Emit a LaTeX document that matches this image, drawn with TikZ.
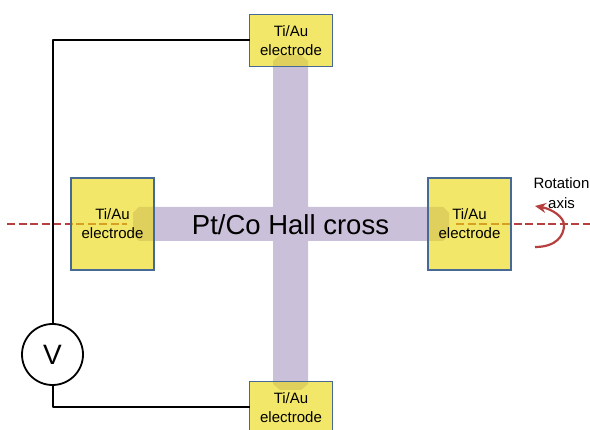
\documentclass[tikz,border=0pt]{standalone}
\usepackage{fontspec}
\usetikzlibrary{arrows.meta}
\setmainfont{Liberation Sans}
\definecolor{crossc}{RGB}{203,192,218}
\definecolor{elecfill}{RGB}{235,217,19}
\definecolor{elecline}{RGB}{70,105,150}
\definecolor{axisred}{RGB}{181,64,63}
\tikzset{
  electrode/.style={draw=elecline,line width=1.7pt,fill=elecfill,fill opacity=.63,text opacity=1,draw opacity=1,
    minimum width=83pt,inner sep=0pt,outer sep=0pt,align=center,font=\fontsize{15}{19}\selectfont},
  wire/.style={draw=black,line width=2pt,line join=round},
  axisline/.style={draw=axisred,line width=2.6pt,dash pattern=on 8pt off 3.5pt},
  voltmeter/.style={circle,draw=black,line width=1.8pt,fill=white,minimum size=61pt,inner sep=0pt,outer sep=0pt,font=\fontsize{28}{32}\selectfont},
  crossbar/.style={fill=crossc,draw=none},
  plainlabel/.style={inner sep=0pt,align=center},
}
\begin{document}
\begin{tikzpicture}[x=1pt,y=-1pt]
\useasboundingbox (0,0) rectangle (590,430);
\clip (0,0) rectangle (590,430);
\fill[white] (0,0) rectangle (590,430);
% Hall cross
\path[crossbar] (280,55) -- (301,55) -- (308,61) -- (308,207) -- (443,207) -- (449,213) -- (449,235) -- (443,241)
  -- (308,241) -- (308,384) -- (301,390) -- (280,390) -- (273,384) -- (273,241) -- (139,241) -- (133,235) -- (133,213)
  -- (139,207) -- (273,207) -- (273,61) -- cycle;
% rotation axis
\coordinate (axL1) at (7,224);
\coordinate (axL2) at (127,224);
\coordinate (axR1) at (456,224);
\coordinate (axR2) at (590,224);
\draw[axisline] (axL1) -- (axL2);
\draw[axisline] (axR1) -- (axR2);
% electrodes
\node[electrode,minimum height=52pt] (top) at (291,40.5) {Ti/Au\\electrode};
\node[electrode,minimum height=52pt] (bot) at (291,407.5) {Ti/Au\\electrode};
\node[electrode,minimum height=92pt] (left) at (112.5,224) {Ti/Au\\electrode};
\node[electrode,minimum height=92pt] (right) at (469.5,224) {Ti/Au\\electrode};
% voltmeter and wires
\node[voltmeter] (V) at (52.5,354.5) {V};
\draw[wire] (top.west) -| (V.north);
\draw[wire] (V.south) |- (bot.west);
% labels
\node[plainlabel,font=\fontsize{27.5}{32}\selectfont] (hall) at (290.5,224.5) {Pt/Co Hall cross};
\node[plainlabel,font=\fontsize{15}{19.5}\selectfont] (rot) at (561.5,193) {Rotation\\axis};
% rotation arrow
\coordinate (arcA) at (535,247);
\coordinate (arcB) at (535,206);
\draw[draw=axisred,line width=2.2pt,-{Stealth[length=11pt,width=10pt]}] (arcA) .. controls (556,247) and (564,236) .. (564,225) .. controls (564,217) and (552,209) .. (arcB);
\end{tikzpicture}
\end{document}
